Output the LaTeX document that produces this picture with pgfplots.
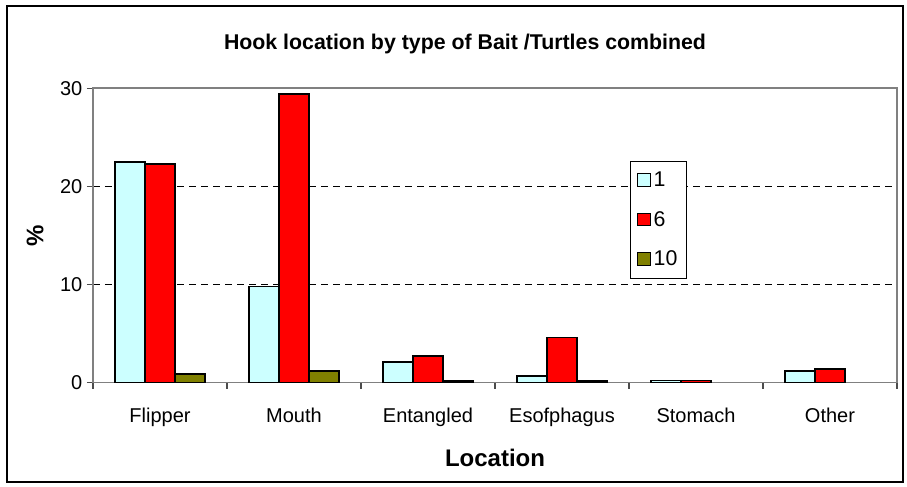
\documentclass[border=0pt]{standalone}
\usepackage{fontspec}
\setmainfont{Liberation Sans}
\usepackage{pgfplots}
\pgfplotsset{compat=1.18}
\definecolor{lcyan}{RGB}{204,255,255}
\definecolor{olivebar}{RGB}{128,128,0}
\definecolor{axgray}{RGB}{128,128,128}
\begin{document}
\begin{tikzpicture}[x=1pt,y=1pt]
\path (-69.75,-77.5) rectangle (610.5,287);
\draw[line width=1.5pt] (-64.5,-74.5) rectangle (607.5,282.5);
\begin{axis}[at={(0,0)}, anchor=south west, scale only axis,
  width=603pt, height=220.8pt,
  ybar=0pt, bar width=22.5pt,
  xmin=-0.5, xmax=5.5, ymin=0, ymax=30,
  xtick={-0.5,0.5,1.5,2.5,3.5,4.5,5.5},
  x tick label as interval,
  xticklabels={Flipper,Mouth,Entangled,Esofphagus,Stomach,Other},
  ytick={0,10,20,30},
  /pgf/number format/assume math mode=true,
  ymajorgrids,
  grid style={black, line width=0.6pt, dash pattern=on 5pt off 4pt},
  axis line style={axgray, line width=1.2pt},
  tick style={black!70, line width=0.8pt},
  tick align=outside, tick pos=left,
  major tick length=4.5pt,
  ticklabel style={font=\fontsize{15}{18}\selectfont},
  xticklabel style={yshift=-11pt},
  title={Hook location by type of Bait /Turtles combined},
  title style={font=\fontsize{16}{19}\bfseries, at={(0.4627,1.123)}, anchor=center},
  xlabel={Location},
  xlabel style={font=\fontsize{18}{21}\bfseries, at={(0.5,-0.256)}, anchor=center},
  ylabel={\%},
  ylabel style={font=\fontsize{18}{21}\bfseries, at={(-0.072,0.5)}, anchor=center, rotate=0},
  legend style={at={(0.668,0.753)}, anchor=north west, draw=black, line width=0.6pt,
    font=\fontsize{16}{19}\selectfont, row sep=13pt, inner xsep=5pt, inner ysep=6pt},
  legend cell align=left,
  legend image code/.code={\draw[#1, line width=0.9pt] (0pt,-4.5pt) rectangle (9.5pt,5pt);},
]
\addplot[fill=lcyan, draw=black, line width=1.1pt] coordinates {(0,22.5) (1,9.8) (2,2.1) (3,0.7) (4,0.2) (5,1.2)};
\addplot[fill=red, draw=black, line width=1.1pt] coordinates {(0,22.3) (1,29.4) (2,2.7) (3,4.6) (4,0.2) (5,1.4)};
\addplot[fill=olivebar, draw=black, line width=1.1pt] coordinates {(0,0.9) (1,1.2) (2,0.15) (3,0.15)};
\legend{1,6,10}
\end{axis}
\end{tikzpicture}
\end{document}
